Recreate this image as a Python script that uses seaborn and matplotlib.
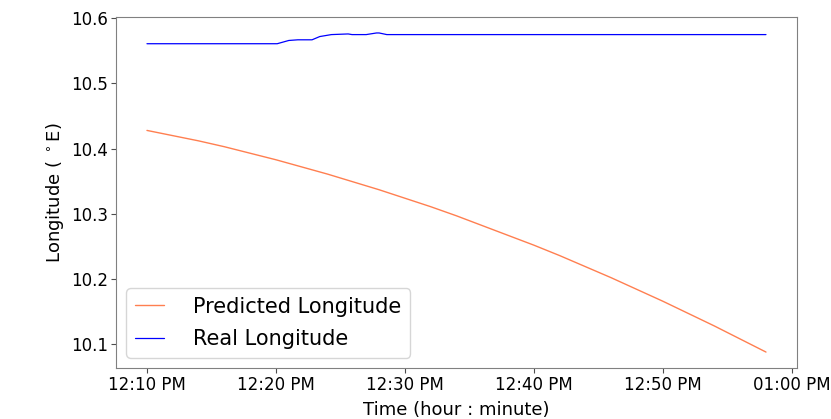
import matplotlib
matplotlib.use("Agg")
import matplotlib.pyplot as plt
import matplotlib.dates as mdates
import pandas as pd
import seaborn as sns

# minutes after 12:10 PM
pred_minutes = [0, 2, 4, 6, 8, 10, 12, 14, 16, 18, 20, 22, 24,
                26, 28, 30, 32, 34, 36, 38, 40, 42, 44, 46, 48]
pred_lon = [10.428, 10.420, 10.412, 10.403, 10.393, 10.383, 10.372,
            10.361, 10.349, 10.337, 10.324, 10.311, 10.297, 10.282,
            10.267, 10.252, 10.236, 10.219, 10.202, 10.184, 10.166,
            10.147, 10.128, 10.108, 10.088]

real_minutes = [0, 5, 10.1, 11.0, 11.7, 12.8, 13.4, 14.3, 15.6, 15.9,
                16.2, 17.0, 17.8, 18.0, 18.6, 25, 35, 48]
real_lon = [10.561, 10.561, 10.561, 10.566, 10.567, 10.567, 10.572,
            10.575, 10.576, 10.575, 10.575, 10.575, 10.5775, 10.5775,
            10.575, 10.575, 10.575, 10.575]

start = pd.Timestamp("2021-01-01 12:10:00")
pred = pd.DataFrame({"time": start + pd.to_timedelta(pred_minutes, unit="m"),
                     "lon": pred_lon})
real = pd.DataFrame({"time": start + pd.to_timedelta(real_minutes, unit="m"),
                     "lon": real_lon})

sns.set_style("white", {"axes.edgecolor": "0.5", "text.color": "black",
                        "axes.labelcolor": "black", "xtick.color": "0.3",
                        "ytick.color": "0.3",
                        "xtick.bottom": True, "ytick.left": True})
plt.rcParams["font.family"] = ["DejaVu Sans"]

fig, ax = plt.subplots(figsize=(8.31, 4.19), dpi=100)
fig.subplots_adjust(left=0.1396, right=0.959, top=0.9594, bottom=0.1217)

sns.lineplot(data=pred, x="time", y="lon", ax=ax, color="coral",
             linewidth=1, label="Predicted Longitude")
sns.lineplot(data=real, x="time", y="lon", ax=ax, color="blue",
             linewidth=0.9, label="Real Longitude")

ax.xaxis.set_major_locator(mdates.MinuteLocator(byminute=[0, 10, 20, 30, 40, 50]))
ax.xaxis.set_major_formatter(mdates.DateFormatter("%I:%M %p"))
ax.tick_params(labelsize=12, length=3.5, width=0.8, pad=2, labelcolor="black")
ax.set_yticks([10.1, 10.2, 10.3, 10.4, 10.5, 10.6])

ax.set_xlabel("Time (hour : minute)", fontsize=13, labelpad=5)
ax.set_ylabel("Longitude ( $^\\circ$E)", fontsize=13, labelpad=4)
ax.legend(loc="lower left", fontsize=15, handlelength=1.4,
          handletextpad=1.4, labelspacing=0.6)

plt.savefig("out.png")
plt.close()
